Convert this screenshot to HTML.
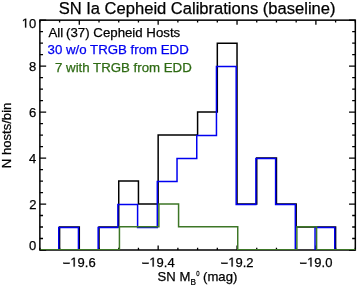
<!DOCTYPE html>
<html><head><meta charset="utf-8"><style>
html,body{margin:0;padding:0;background:#fff;}
body{width:357px;height:285px;overflow:hidden;}
svg{display:block;will-change:transform;font-family:"Liberation Sans",sans-serif;}
</style></head><body>
<svg width="357" height="285" viewBox="0 0 357 285">
<defs><clipPath id="c"><rect x="39.87" y="20.15" width="315.45" height="229.85"/></clipPath></defs>
<rect x="0" y="0" width="357" height="285" fill="#fff"/>
<text x="58.65" y="13.55" font-size="16.56" fill="#000" stroke="#000" stroke-width="0.25">SN Ia Cepheid Calibrations (baseline)</text>
<g font-size="13.0" fill="#000" stroke="#000" stroke-width="0.25"><text x="29.03" y="249.50">0</text><text x="29.17" y="208.70">2</text><text x="28.90" y="162.80">4</text><text x="29.09" y="116.70">6</text><text x="29.08" y="70.95">8</text><path d="M25.07,27.60 L25.07,19.75 L23.05,21.19 L23.05,20.11 L25.16,18.66 L26.22,18.66 L26.22,27.60Z"/><text x="29.03" y="27.60">0</text></g>
<g font-size="13.0" fill="#000" stroke="#000" stroke-width="0.25"><rect x="63.33" y="262.79" width="6.44" height="1.05"/><path d="M73.61,266.60 L73.61,258.75 L71.59,260.19 L71.59,259.11 L73.70,257.66 L74.76,257.66 L74.76,266.60Z"/><text x="77.57" y="266.60">9.6</text><rect x="142.34" y="262.79" width="6.44" height="1.05"/><path d="M152.61,266.60 L152.61,258.75 L150.59,260.19 L150.59,259.11 L152.71,257.66 L153.76,257.66 L153.76,266.60Z"/><text x="156.57" y="266.60">9.4</text><rect x="221.27" y="262.79" width="6.44" height="1.05"/><path d="M231.55,266.60 L231.55,258.75 L229.53,260.19 L229.53,259.11 L231.64,257.66 L232.70,257.66 L232.70,266.60Z"/><text x="235.51" y="266.60">9.2</text><rect x="300.10" y="262.79" width="6.44" height="1.05"/><path d="M310.38,266.60 L310.38,258.75 L308.36,260.19 L308.36,259.11 L310.47,257.66 L311.52,257.66 L311.52,266.60Z"/><text x="314.34" y="266.60">9.0</text></g>
<g font-size="13.1" fill="#000" stroke="#000" stroke-width="0.25">
<text x="157.61" y="280.8">SN M</text>
<text x="190.53" y="284.80" font-size="8.2">B</text>
<text transform="translate(196.30,275.95) scale(0.8,1)" font-size="7.4">0</text>
<text x="203.09" y="280.8">(mag)</text>
<text transform="translate(10.9,168.17) rotate(-90)">N hosts/bin</text>
</g>
<g font-size="13.25" stroke-width="0.25">
<text x="48.47" y="36.9" fill="#000" stroke="#000">All</text><text x="66.08" y="36.9" fill="#000" stroke="#000">(37) Cepheid Hosts</text>
<text x="47.60" y="54.0" fill="#0000f0" stroke="#0000f0">30 w/o TRGB from EDD</text>
<text x="55.02" y="71.75" fill="#2f6b14" stroke="#2f6b14">7 with TRGB from EDD</text>
</g>
<g stroke="#000" fill="none">
<rect x="39.87" y="20.15" width="315.45" height="229.85" stroke-width="1.5"/>
<path d="M39.87,250.00H46.17M355.32,250.00H349.02M39.87,238.51H43.02M355.32,238.51H352.17M39.87,227.01H43.02M355.32,227.01H352.17M39.87,215.52H43.02M355.32,215.52H352.17M39.87,204.03H46.17M355.32,204.03H349.02M39.87,192.54H43.02M355.32,192.54H352.17M39.87,181.05H43.02M355.32,181.05H352.17M39.87,169.55H43.02M355.32,169.55H352.17M39.87,158.06H46.17M355.32,158.06H349.02M39.87,146.57H43.02M355.32,146.57H352.17M39.87,135.07H43.02M355.32,135.07H352.17M39.87,123.58H43.02M355.32,123.58H352.17M39.87,112.09H46.17M355.32,112.09H349.02M39.87,100.60H43.02M355.32,100.60H352.17M39.87,89.10H43.02M355.32,89.10H352.17M39.87,77.61H43.02M355.32,77.61H352.17M39.87,66.12H46.17M355.32,66.12H349.02M39.87,54.63H43.02M355.32,54.63H352.17M39.87,43.13H43.02M355.32,43.13H352.17M39.87,31.64H43.02M355.32,31.64H352.17M39.87,20.15H46.17M355.32,20.15H349.02M39.87,250.00V247.70M39.87,20.15V22.45M59.59,250.00V247.70M59.59,20.15V22.45M79.30,250.00V245.40M79.30,20.15V24.75M99.02,250.00V247.70M99.02,20.15V22.45M118.73,250.00V247.70M118.73,20.15V22.45M138.45,250.00V247.70M138.45,20.15V22.45M158.16,250.00V245.40M158.16,20.15V24.75M177.88,250.00V247.70M177.88,20.15V22.45M197.59,250.00V247.70M197.59,20.15V22.45M217.31,250.00V247.70M217.31,20.15V22.45M237.03,250.00V245.40M237.03,20.15V24.75M256.74,250.00V247.70M256.74,20.15V22.45M276.46,250.00V247.70M276.46,20.15V22.45M296.17,250.00V247.70M296.17,20.15V22.45M315.89,250.00V245.40M315.89,20.15V24.75M335.60,250.00V247.70M335.60,20.15V22.45M355.32,250.00V247.70M355.32,20.15V22.45" stroke-width="1.3"/>
</g>
<g clip-path="url(#c)" fill="none" stroke-width="1.5">
<path d="M39.87,250.00 L59.59,250.00 L59.59,227.01 L79.30,227.01 L79.30,250.00 L99.02,250.00 L99.02,227.01 L118.73,227.01 L118.73,181.05 L138.45,181.05 L138.45,204.03 L158.16,204.03 L158.16,135.07 L177.88,135.07 L197.59,135.07 L197.59,112.09 L217.31,112.09 L217.31,43.13 L237.03,43.13 L237.03,204.03 L256.74,204.03 L256.74,158.06 L276.46,158.06 L276.46,204.03 L296.17,204.03 L296.17,227.01 L315.89,227.01 L335.60,227.01 L335.60,250.00 L355.32,250.00" stroke="#000"/>
<path d="M39.02,255.00 L58.74,255.00 L58.74,227.41 L78.45,227.41 L78.45,255.00 L98.17,255.00 L98.17,227.41 L117.88,227.41 L117.88,204.43 L137.60,204.43 L137.60,227.41 L157.31,227.41 L157.31,181.45 L177.03,181.45 L177.03,158.46 L196.75,158.46 L196.75,135.47 L216.46,135.47 L216.46,66.52 L236.18,66.52 L236.18,204.43 L255.89,204.43 L255.89,158.46 L275.61,158.46 L275.61,204.43 L295.32,204.43 L295.32,255.00 L315.04,255.00 L315.04,227.41 L334.75,227.41 L334.75,255.00 L354.47,255.00" stroke="#0000f0"/>
<path d="M40.57,249.85 L60.29,249.85 L80.00,249.85 L99.72,249.85 L119.43,249.85 L119.43,226.86 L139.15,226.86 L158.86,226.86 L158.86,203.88 L178.58,203.88 L178.58,226.86 L198.29,226.86 L218.01,226.86 L237.73,226.86 L237.73,249.85 L257.44,249.85 L277.16,249.85 L296.87,249.85 L296.87,226.86 L316.59,226.86 L316.59,249.85 L336.30,249.85 L356.02,249.85" stroke="#3d7626"/>
</g>
</svg>
</body></html>
